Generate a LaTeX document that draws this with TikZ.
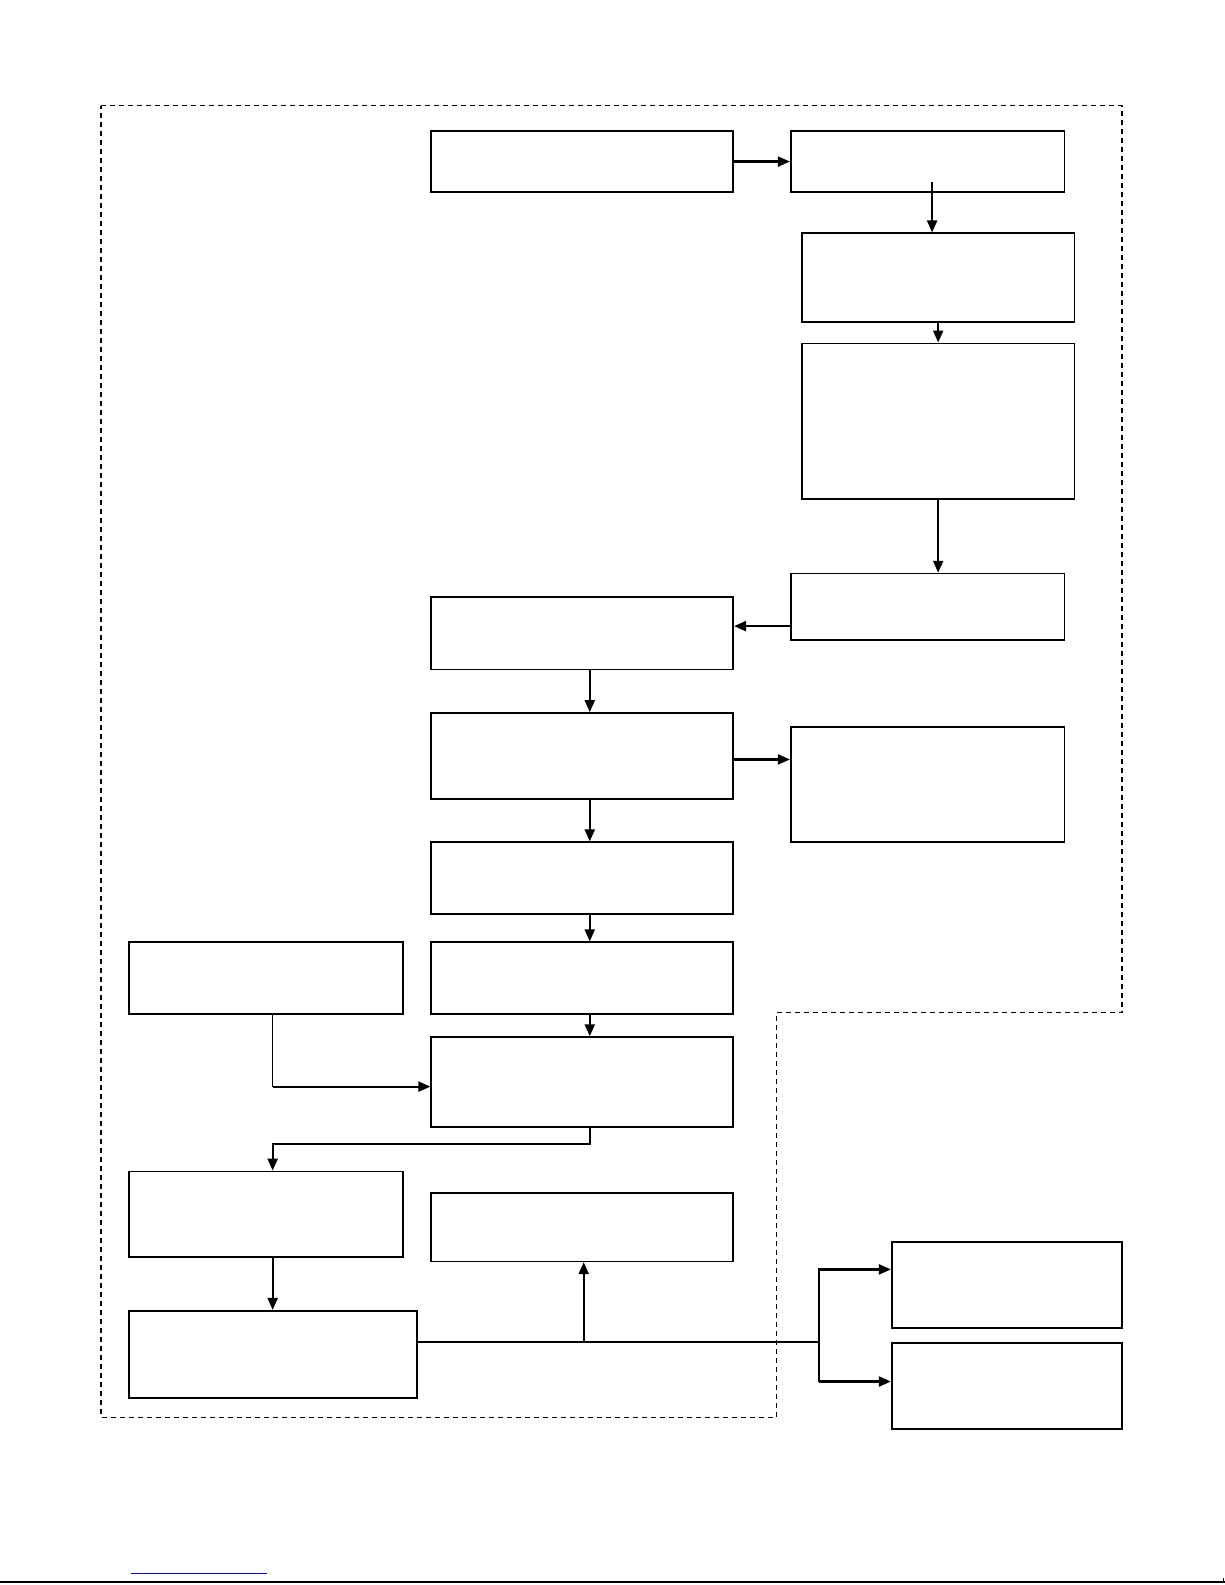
\documentclass[tikz,border=0pt]{standalone}
\usetikzlibrary{arrows.meta,fit}
\begin{document}
\begin{tikzpicture}[x=1.0099pt,y=-1.0099pt,
 box/.style={draw,line width=1.7pt,inner sep=0pt,rectangle},
 arr/.style={line width=2.2pt,-{Triangle[length=12pt,width=10pt]}},
 ln/.style={line width=2.2pt}]
\useasboundingbox (0,0) rectangle (1213,1569.5);
% dashed boundary
\draw[line width=1.4pt,dash pattern=on 5pt off 4pt] (100,104.5) -| (1111,1002.5) -| (769,1403.5) -| cycle;
% boxes
\node[box,fit={(427,130) (726,190)}] (A) {};
\node[box,fit={(783,130) (1054,190)}] (B) {};
\node[box,fit={(794,231) (1064,319)}] (C) {};
\node[box,fit={(794,340) (1064,494)}] (D) {};
\node[box,fit={(783,568) (1054,634)}] (E) {};
\node[box,fit={(427,591) (726,663)}] (F) {};
\node[box,fit={(427,706) (726,791)}] (G) {};
\node[box,fit={(783,720) (1054,834)}] (H) {};
\node[box,fit={(427,834) (726,905)}] (I) {};
\node[box,fit={(128,933) (399,1004)}] (J) {};
\node[box,fit={(427,933) (726,1004)}] (K) {};
\node[box,fit={(427,1027) (726,1116)}] (L) {};
\node[box,fit={(128,1160) (399,1245)}] (M) {};
\node[box,fit={(427,1181) (726,1249)}] (N) {};
\node[box,fit={(128,1298) (413,1384)}] (O) {};
\node[box,fit={(883,1230) (1111,1315)}] (P) {};
\node[box,fit={(883,1330) (1111,1415)}] (Q) {};
% helper coordinates
\coordinate (x584) at (584,0);
\coordinate (x270) at (270,0);
\coordinate (y620) at (0,620);
\coordinate (y752) at (0,752);
\coordinate (y1076) at (0,1076);
\coordinate (bc) at (923,180);
\coordinate (j1) at (578,1329);
\coordinate (j2) at (811,1329);
\coordinate (p1) at (811,1257);
\coordinate (q1) at (811,1368);
% connectors
\draw[arr] (A.east) -- (B.west);
\draw[arr] (bc) -- (C.north -| bc);
\draw[arr] (C.south) -- (D.north);
\draw[arr] (D.south) -- (E.north -| D.south);
\draw[arr] (E.west |- y620) -- (F.east |- y620);
\draw[arr] (F.south -| x584) -- (G.north -| x584);
\draw[arr] (G.east |- y752) -- (H.west |- y752);
\draw[arr] (G.south -| x584) -- (I.north -| x584);
\draw[arr] (I.south -| x584) -- (K.north -| x584);
\draw[arr] (K.south -| x584) -- (L.north -| x584);
\draw[line width=1.2pt] (J.south -| x270) -- (x270 |- y1076);
\draw[arr] (x270 |- y1076) -- (L.west |- y1076);
\draw[arr] (L.south -| x584) -- ++(0,16) -| (M.north -| x270);
\draw[arr] (M.south -| x270) -- (O.north -| x270);
\draw[ln] (O.east |- j1) -- (j2);
\draw[arr] (j1) -- (N.south -| j1);
\draw[arr] (q1) -- (p1) -- (P.west |- p1);
\draw[arr] (q1) -- (Q.west |- q1);
% page footer lines
\draw[line width=2pt] (0,1567) -- (1213,1567);
\draw[line width=1pt] (1211.5,1567) -- (1211.5,1563);
\draw[line width=1pt,draw={rgb,255:red,0;green,0;blue,204}] (130,1558) -- (264,1558);
\end{tikzpicture}
\end{document}
